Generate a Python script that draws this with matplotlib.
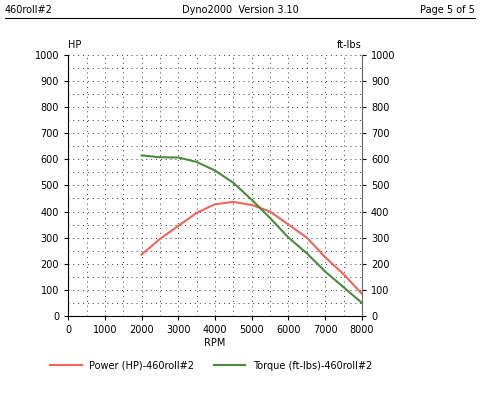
import matplotlib.pyplot as plt
from matplotlib.lines import Line2D

rpm = [2000, 2500, 3000, 3500, 4000, 4500, 5000, 5500, 6000, 6500, 7000, 7500, 8000]
power_hp = [235, 295, 345, 395, 428, 437, 425, 400, 350, 300, 225, 160, 85]
torque = [615, 608, 607, 590, 557, 510, 445, 375, 300, 240, 170, 110, 50]

RED = "#f0645a"
GREEN = "#4a8a3a"

fig = plt.figure(figsize=(4.8, 4.13), dpi=100)
ax = fig.add_axes([0.142, 0.235, 0.612, 0.632])

ax.plot(rpm, power_hp, color=RED, lw=1.5)
ax.plot(rpm, torque, color=GREEN, lw=1.5)

ax.set_xlim(0, 8000)
ax.set_ylim(0, 1000)
ax.set_xticks(range(0, 8001, 1000))
ax.set_xticks(range(0, 8001, 500), minor=True)
ax.set_yticks(range(0, 1001, 100))
ax.set_yticks(range(0, 1001, 50), minor=True)
ax.grid(True, which="both", color="#333333", linestyle=(0, (1, 4)), lw=0.7)
ax.tick_params(labelsize=7, length=3, which="major")
ax.tick_params(length=0, which="minor")
ax.tick_params(axis="y", labelright=True, right=True)
ax.spines["top"].set_visible(False)
ax.spines["right"].set_color("#666666")
ax.set_xlabel("RPM", fontsize=7, labelpad=2)
ax.text(0, 1.02, "HP", transform=ax.transAxes, fontsize=7, ha="left", va="bottom")
ax.text(1.0, 1.02, "ft-lbs", transform=ax.transAxes, fontsize=7, ha="right", va="bottom")

# header
fig.text(0.01, 0.975, "460roll#2", fontsize=7, va="center")
fig.text(0.5, 0.975, "Dyno2000  Version 3.10", fontsize=7, va="center", ha="center")
fig.text(0.99, 0.975, "Page 5 of 5", fontsize=7, va="center", ha="right")
fig.add_artist(Line2D([0.01, 0.99], [0.957, 0.957], color="black", lw=0.8))

handles = [Line2D([], [], color=RED, lw=1.5), Line2D([], [], color=GREEN, lw=1.5)]
fig.legend(handles, ["Power (HP)-460roll#2", "Torque (ft-lbs)-460roll#2"],
           loc="center", bbox_to_anchor=(0.44, 0.115), ncol=2, frameon=False,
           fontsize=7, handlelength=3.2, columnspacing=2)

fig.savefig("out.png", dpi=100)
